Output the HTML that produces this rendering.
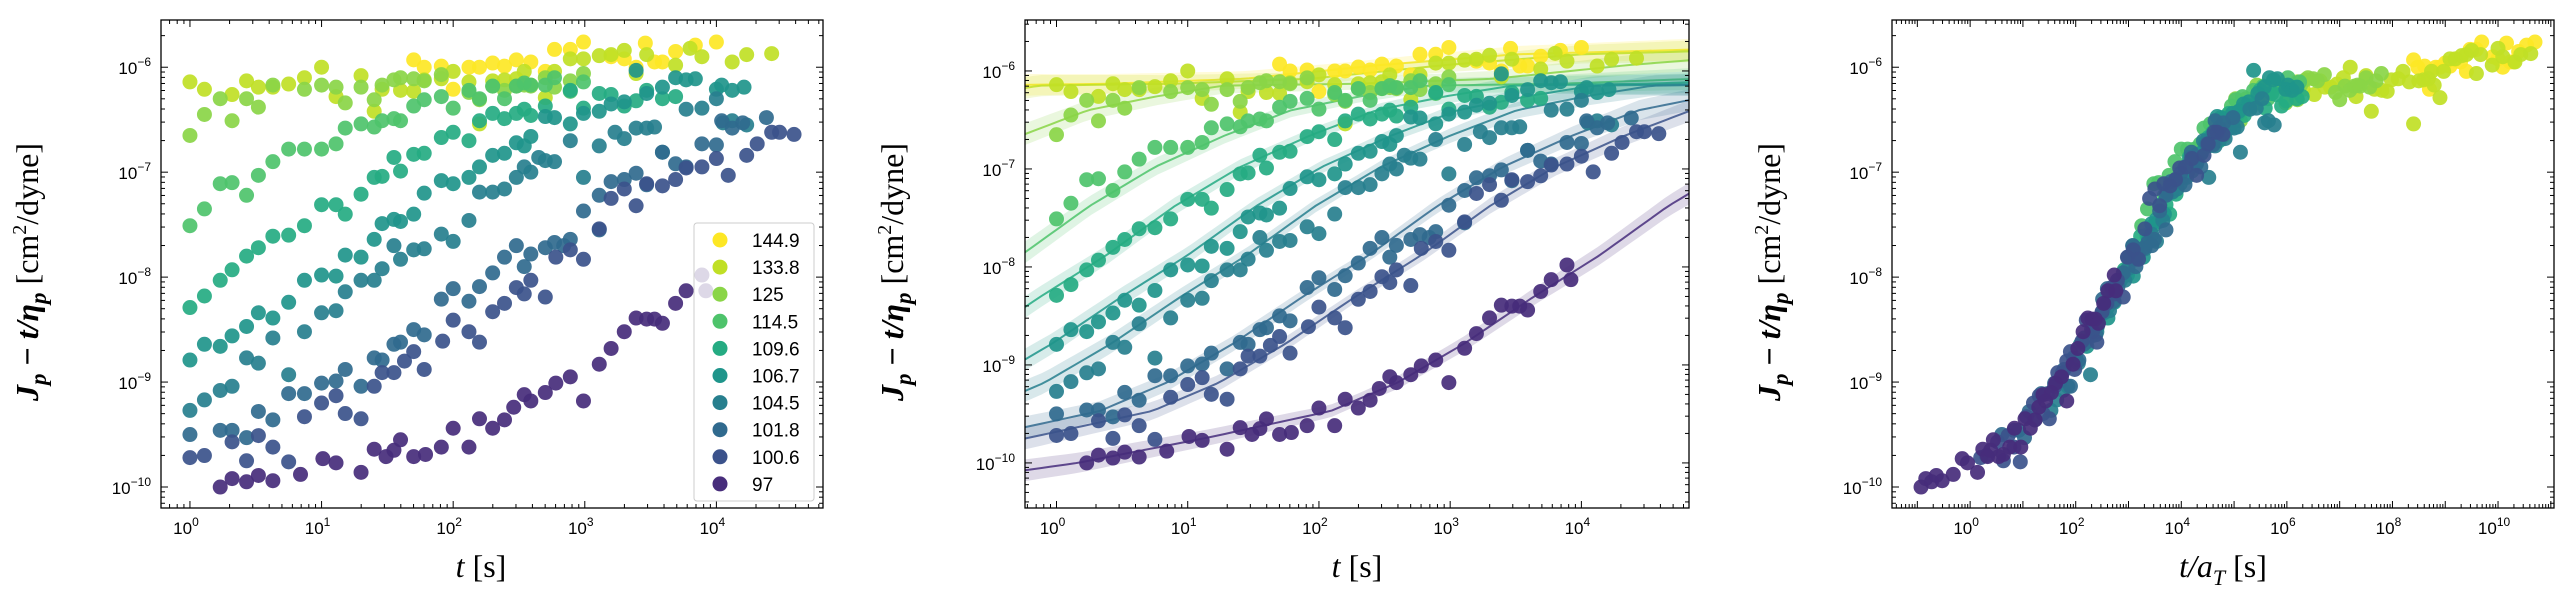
<!DOCTYPE html>
<html><head><meta charset="utf-8"><style>
html,body{margin:0;padding:0;background:#fff;}
svg{display:block;}
</style></head><body>
<svg id="fig" width="2562" height="592" viewBox="0 0 2562 592" xmlns="http://www.w3.org/2000/svg"></svg>
<script>
const temps = ["144.9","133.8","125","114.5","109.6","106.7","104.5","101.8","100.6","97"];
const colors = ["#fde725","#c0df25","#8ad547","#4ec36b","#25ab82","#1f958b","#277f8e","#306a8e","#3b528b","#472d7b"];
const logAT = [-6.7,-6.2,-4.8,-3.25,-2.6,-1.98,-1.53,-0.6,-0.2,1.16];
const lt_1449=[1.70,1.78,1.91,2.0,2.12,2.20,2.30,2.39,2.48,2.59,2.70,2.77,2.89,2.99,3.20,3.30,3.39,3.46,3.53,3.59,3.69,3.84,4.0];
const lj_1449=[-5.93,-6.0,-5.99,-6.21,-6.0,-6.0,-5.96,-5.99,-5.93,-5.95,-6.04,-5.83,-5.83,-5.76,-5.90,-5.92,-6.0,-5.77,-5.95,-5.95,-5.85,-5.79,-5.76];
const lt_1338=[0,0.11,0.32,0.43,0.52,0.63,0.75,0.87,1.0,1.11,1.30,1.40,1.46,1.60,1.70,1.78,1.91,2.0,2.12,2.20,2.30,2.39,2.48,2.54,2.59,2.70,2.77,2.89,2.99,3.11,3.20,3.30,3.39,3.47,3.69,3.80,3.89,4.12,4.23,4.42];
const lj_1338=[-6.14,-6.21,-6.26,-6.13,-6.19,-6.19,-6.16,-6.10,-6.00,-6.28,-6.08,-6.42,-6.21,-6.22,-6.23,-6.12,-6.11,-6.04,-6.14,-6.54,-6.13,-6.12,-6.11,-6.04,-6.17,-6.29,-6.04,-5.92,-5.92,-5.89,-5.88,-5.84,-6.06,-5.88,-5.98,-5.82,-5.90,-5.95,-5.88,-5.87];
const lt_125=[0,0.11,0.23,0.32,0.43,0.52,0.63,0.87,1.0,1.11,1.18,1.30,1.40,1.46,1.55,1.60,1.70,1.78,1.91,2.12,2.20,2.30,2.39,2.48,2.54,2.59,2.70,2.77,2.89,2.99];
const lj_125=[-6.65,-6.45,-6.30,-6.51,-6.30,-6.38,-6.17,-6.21,-6.17,-6.19,-6.34,-6.19,-6.31,-6.17,-6.12,-6.10,-6.11,-6.13,-6.07,-6.24,-6.31,-6.18,-6.22,-6.18,-6.17,-6.18,-6.10,-6.19,-6.13,-6.06];
const lt_1145=[0,0.11,0.23,0.32,0.43,0.52,0.63,0.75,0.87,1.0,1.11,1.18,1.30,1.40,1.46,1.55,1.60,1.70,1.78,1.91,2.0,2.12,2.20,2.30,2.39,2.48,2.54,2.59,2.70,2.77,2.89,2.99];
const lj_1145=[-7.51,-7.35,-7.11,-7.10,-7.22,-7.03,-6.90,-6.78,-6.78,-6.78,-6.73,-6.58,-6.54,-6.57,-6.51,-6.49,-6.51,-6.37,-6.31,-6.28,-6.39,-6.22,-6.30,-6.18,-6.30,-6.18,-6.15,-6.17,-6.17,-6.10,-6.23,-6.14];
const lt_1096=[0,0.11,0.23,0.32,0.43,0.52,0.63,0.75,0.87,1.0,1.11,1.18,1.30,1.40,1.46,1.55,1.60,1.70,1.78,1.91,2.0,2.12,2.20,2.30,2.39,2.48,2.54,2.59,2.70,2.89,2.99,3.11,3.20,3.30,3.39,3.47,3.59,3.69];
const lj_1096=[-8.29,-8.18,-8.03,-7.93,-7.80,-7.72,-7.61,-7.60,-7.51,-7.31,-7.31,-7.40,-7.21,-7.05,-7.04,-6.86,-6.99,-6.83,-6.82,-6.67,-6.62,-6.70,-6.51,-6.44,-6.49,-6.44,-6.40,-6.46,-6.37,-6.22,-6.39,-6.25,-6.26,-6.37,-6.32,-6.22,-6.30,-6.28];
const lt_1067=[0,0.11,0.23,0.32,0.43,0.52,0.63,0.75,0.87,1.0,1.11,1.18,1.30,1.40,1.46,1.55,1.60,1.70,1.78,1.91,2.0,2.12,2.20,2.30,2.39,2.48,2.54,2.59,2.70,2.77,2.89,2.99,3.11,3.20,3.30,3.39,3.47,3.59,3.69,3.77,3.84,4.0,4.04,4.12,4.21];
const lj_1067=[-8.79,-8.64,-8.66,-8.56,-8.47,-8.34,-8.39,-8.24,-8.03,-7.98,-7.99,-7.79,-7.81,-7.64,-7.49,-7.45,-7.47,-7.40,-7.20,-7.08,-7.11,-7.05,-6.95,-6.84,-6.82,-6.72,-6.75,-6.66,-6.47,-6.48,-6.54,-6.44,-6.42,-6.35,-6.33,-6.03,-6.25,-6.19,-6.10,-6.12,-6.11,-6.21,-6.17,-6.22,-6.19];
const lt_1045=[0,0.11,0.23,0.32,0.43,0.52,0.63,0.75,0.87,1.0,1.11,1.18,1.30,1.40,1.46,1.55,1.60,1.70,1.78,1.91,2.0,2.12,2.20,2.30,2.39,2.48,2.54,2.59,2.65,2.70,2.77,2.89,2.99,3.11,3.23,3.30,3.39,3.47,3.53,3.59,3.77,3.89,4.0,4.05,4.12,4.23];
const lj_1045=[-9.27,-9.17,-9.08,-9.04,-8.77,-8.82,-8.58,-8.93,-8.52,-8.34,-8.32,-8.14,-8.03,-8.03,-7.92,-7.70,-7.83,-7.74,-7.73,-7.59,-7.66,-7.46,-7.19,-7.19,-7.16,-7.05,-6.95,-7.00,-6.86,-6.89,-6.90,-6.70,-7.05,-6.75,-6.62,-6.68,-6.58,-6.58,-6.57,-6.81,-6.40,-6.39,-6.30,-6.53,-6.51,-6.55];
const lt_1018=[0,0.23,0.32,0.43,0.52,0.63,0.75,0.87,1.0,1.11,1.18,1.30,1.40,1.46,1.55,1.60,1.70,1.78,1.91,2.0,2.12,2.20,2.30,2.39,2.48,2.54,2.59,2.70,2.77,2.84,2.89,2.99,3.11,3.11,3.20,3.30,3.39,3.47,3.59,3.69,3.77,3.89,4.0,4.04,4.12,4.20,4.38];
const lj_1018=[-9.50,-9.46,-9.46,-9.53,-9.28,-9.36,-9.11,-9.11,-9.01,-8.99,-8.88,-9.04,-8.77,-8.79,-8.64,-8.62,-8.50,-8.55,-8.21,-8.11,-8.23,-8.09,-7.96,-7.81,-7.70,-7.90,-7.78,-7.72,-7.67,-7.70,-7.64,-7.37,-7.22,-7.55,-7.09,-7.07,-7.01,-7.12,-6.81,-6.92,-6.95,-6.73,-6.74,-6.51,-6.58,-6.53,-6.48];
const lt_1006=[0,0.11,0.32,0.43,0.52,0.63,0.75,0.87,1.0,1.11,1.18,1.30,1.40,1.46,1.55,1.63,1.70,1.78,1.92,2.0,2.12,2.20,2.30,2.39,2.48,2.54,2.59,2.70,2.78,2.89,2.99,3.11,3.20,3.30,3.39,3.47,3.59,3.69,3.77,3.89,4.0,4.09,4.23,4.31,4.42,4.48,4.59];
const lj_1006=[-9.72,-9.70,-9.57,-9.75,-9.51,-9.62,-9.76,-9.33,-9.20,-9.13,-9.30,-9.35,-9.04,-8.91,-8.91,-8.80,-8.71,-8.88,-8.61,-8.41,-8.52,-8.62,-8.33,-8.25,-8.10,-8.16,-8.03,-8.19,-7.81,-7.74,-7.83,-7.54,-7.25,-7.16,-7.32,-7.11,-7.13,-7.07,-6.96,-6.95,-6.87,-7.03,-6.84,-6.73,-6.62,-6.62,-6.64];
const lt_97=[0.23,0.32,0.43,0.52,0.63,0.84,1.01,1.11,1.30,1.40,1.49,1.55,1.60,1.70,1.79,1.91,2.00,2.12,2.20,2.30,2.39,2.46,2.54,2.59,2.70,2.78,2.89,2.99,3.11,3.20,3.30,3.39,3.47,3.53,3.59,3.69,3.77,3.89,3.92];
const lj_97=[-10.0,-9.92,-9.95,-9.89,-9.94,-9.88,-9.73,-9.77,-9.86,-9.64,-9.71,-9.65,-9.55,-9.71,-9.69,-9.62,-9.44,-9.62,-9.35,-9.44,-9.36,-9.24,-9.12,-9.18,-9.10,-9.01,-8.95,-9.18,-8.83,-8.68,-8.52,-8.39,-8.40,-8.40,-8.44,-8.25,-8.13,-7.98,-8.13];
const seriesLogT=[lt_1449,lt_1338,lt_125,lt_1145,lt_1096,lt_1067,lt_1045,lt_1018,lt_1006,lt_97];
const seriesLogJ=[lj_1449,lj_1338,lj_125,lj_1145,lj_1096,lj_1067,lj_1045,lj_1018,lj_1006,lj_97];
const masterX=[-1.8,-1.0,0,0.93,1.44,1.95,2.47,2.98,3.5,4.0,4.53,5.04,5.56,6.07,7.1,8.13,9.16,10.2,11.6];
const masterY=[-10.15,-10.0,-9.74,-9.47,-9.18,-8.78,-8.31,-7.88,-7.38,-6.98,-6.66,-6.40,-6.26,-6.15,-6.13,-6.08,-5.94,-5.83,-5.78];
const yTicks=[-10,-9,-8,-7,-6];

const NS="http://www.w3.org/2000/svg";
const svg=document.getElementById('fig');
function mk(tag,attrs,parent){const e=document.createElementNS(NS,tag);for(const k in attrs)e.setAttribute(k,attrs[k]);(parent||svg).appendChild(e);return e;}

const panels=[
 {x0:161,x1:823,y0:20,y1:508,lx0:-0.22,lx1:4.81,ly0:-10.2,ly1:-5.55,xlab:[0,1,2,3,4],title:"t",tcx:481,ycx:38,name:"panel-raw"},
 {x0:1025,x1:1689,y0:20,y1:508,lx0:-0.24,lx1:4.82,ly0:-10.46,ly1:-5.48,xlab:[0,1,2,3,4],title:"t",tcx:1357,ycx:903,name:"panel-fit"},
 {x0:1892,x1:2554,y0:20,y1:508,lx0:-1.48,lx1:11.06,ly0:-10.2,ly1:-5.55,xlab:[0,2,4,6,8,10],title:"ta",tcx:2223,ycx:1780,name:"panel-master"}
];
panels.forEach(p=>{p.sx=v=>p.x0+(v-p.lx0)/(p.lx1-p.lx0)*(p.x1-p.x0);p.sy=v=>p.y1-(v-p.ly0)/(p.ly1-p.ly0)*(p.y1-p.y0);});

function axes(p){
  const g=mk('g',{});
  
  
  const tk={stroke:'#000','stroke-width':1};
  for(let d=Math.floor(p.lx0);d<=Math.ceil(p.lx1);d++){
    for(let m=1;m<10;m++){
      const v=d+Math.log10(m); if(v<p.lx0||v>p.lx1)continue;
      const x=p.sx(v), L=m===1?7:4;
      mk('line',Object.assign({x1:x,x2:x,y1:p.y1,y2:p.y1-L},tk),g);
      mk('line',Object.assign({x1:x,x2:x,y1:p.y0,y2:p.y0+L},tk),g);
    }
  }
  for(let d=Math.floor(p.ly0);d<=Math.ceil(p.ly1);d++){
    for(let m=1;m<10;m++){
      const v=d+Math.log10(m); if(v<p.ly0||v>p.ly1)continue;
      const y=p.sy(v), L=m===1?7:4;
      mk('line',Object.assign({y1:y,y2:y,x1:p.x0,x2:p.x0+L},tk),g);
      mk('line',Object.assign({y1:y,y2:y,x1:p.x1,x2:p.x1-L},tk),g);
    }
  }
  mk('rect',{x:p.x0,y:p.y0,width:p.x1-p.x0,height:p.y1-p.y0,fill:'none',stroke:'#000','stroke-width':1.3},g);
  p.xlab.forEach(v=>{
    const t=mk('text',{x:p.sx(v)-4,y:p.y1+26,'text-anchor':'middle','font-family':'Liberation Sans, DejaVu Sans, sans-serif','font-size':17},g);
    
    
    t.textContent='10';
    const s=mk('tspan',{dy:-8,'font-size':12},t); s.textContent=String(v);
  });
  yTicks.forEach(v=>{
    if(v<p.ly0||v>p.ly1)return;
    const t=mk('text',{x:p.x0-10,y:p.sy(v)+7,'text-anchor':'end','font-family':'Liberation Sans, DejaVu Sans, sans-serif','font-size':17},g);
    
    
    t.textContent='10';
    const s=mk('tspan',{dy:-8,'font-size':12},t); s.textContent='\u2212'+String(-v);
  });
  const yt=mk('text',{transform:`translate(${p.ycx},${(p.y0+p.y1)/2+8}) rotate(-90)`,'text-anchor':'middle','font-family':'Liberation Serif, DejaVu Serif, serif','font-size':32},g);
  
  
  yt.innerHTML='<tspan font-style="italic" font-weight="bold">J</tspan><tspan font-style="italic" font-weight="bold" font-size="23" dy="8">p</tspan><tspan dy="-8" font-weight="bold"> \u2212 </tspan><tspan font-style="italic" font-weight="bold">t/\u03b7</tspan><tspan font-style="italic" font-weight="bold" font-size="23" dy="8">p</tspan><tspan dy="-8"> [cm</tspan><tspan font-size="20" dy="-12">2</tspan><tspan dy="12">/dyne]</tspan>';
  const xt=mk('text',{x:p.tcx,y:577,'text-anchor':'middle','font-family':'Liberation Serif, DejaVu Serif, serif','font-size':32},g);
  
  
  if(p.title==='t') xt.innerHTML='<tspan font-style="italic">t</tspan> [s]';
  else xt.innerHTML='<tspan font-style="italic">t/a</tspan><tspan font-style="italic" font-size="22" dy="8">T</tspan><tspan dy="-8"> [s]</tspan>';
}

function masterAt(x){
  for(let i=0;i<masterX.length-1;i++){
    if(x<=masterX[i+1]){const f=(x-masterX[i])/(masterX[i+1]-masterX[i]);return masterY[i]+f*(masterY[i+1]-masterY[i]);}
  }
  return masterY[masterY.length-1];
}

panels.forEach((p,i)=>{
  const cp=mk('clipPath',{id:'clip'+i});
  mk('rect',{x:p.x0,y:p.y0,width:p.x1-p.x0,height:p.y1-p.y0},cp);
});

function points(p,i,shift){
  const g=mk('g',{'clip-path':`url(#clip${i})`});
  
  
  seriesLogT.forEach((lt,s)=>{
    lt.forEach((v,k)=>{
      const x=shift?v-logAT[s]:v;
      const c=mk('circle',{cx:p.sx(x),cy:p.sy(seriesLogJ[s][k]),r:7.5,fill:colors[s],'fill-opacity':0.92},g);
      
      
    });
  });
}

(function(){
  const p=panels[1];
  const g=mk('g',{'clip-path':'url(#clip1)'});
  
  
  temps.forEach((tm,s)=>{
    const up=[],lo=[],mid=[];
    for(let k=0;k<=80;k++){
      const v=p.lx0+(p.lx1-p.lx0)*k/80;
      const y=masterAt(v-logAT[s]);
      const w=0.06+0.05*Math.abs(v-2.3)/2.5;
      mid.push(p.sx(v)+','+p.sy(y)); up.push(p.sx(v)+','+p.sy(y+w)); lo.unshift(p.sx(v)+','+p.sy(y-w));
    }
    const b=mk('polygon',{points:up.concat(lo).join(' '),fill:colors[s],'fill-opacity':0.18},g);
    
    
    const l=mk('polyline',{points:mid.join(' '),fill:'none',stroke:colors[s],'stroke-width':2,'stroke-opacity':0.85},g);
    
    
  });
})();

points(panels[0],0,false);
points(panels[1],1,false);
points(panels[2],2,true);
panels.forEach(axes);

(function(){
  const g=mk('g',{});
  
  
  mk('rect',{x:694,y:223,width:120,height:278,rx:3,fill:'#fff','fill-opacity':0.8,stroke:'#ccc','stroke-width':1},g);
  temps.forEach((tm,s)=>{
    const y=240+s*27.1;
    const c=mk('circle',{cx:720,cy:y,r:7.5,fill:colors[s]},g);
    
    
    const t=mk('text',{x:752,y:y+7,'font-family':'Liberation Sans, DejaVu Sans, sans-serif','font-size':19},g);
    
    
    t.textContent=tm;
  });
})();
</script>
</body></html>
